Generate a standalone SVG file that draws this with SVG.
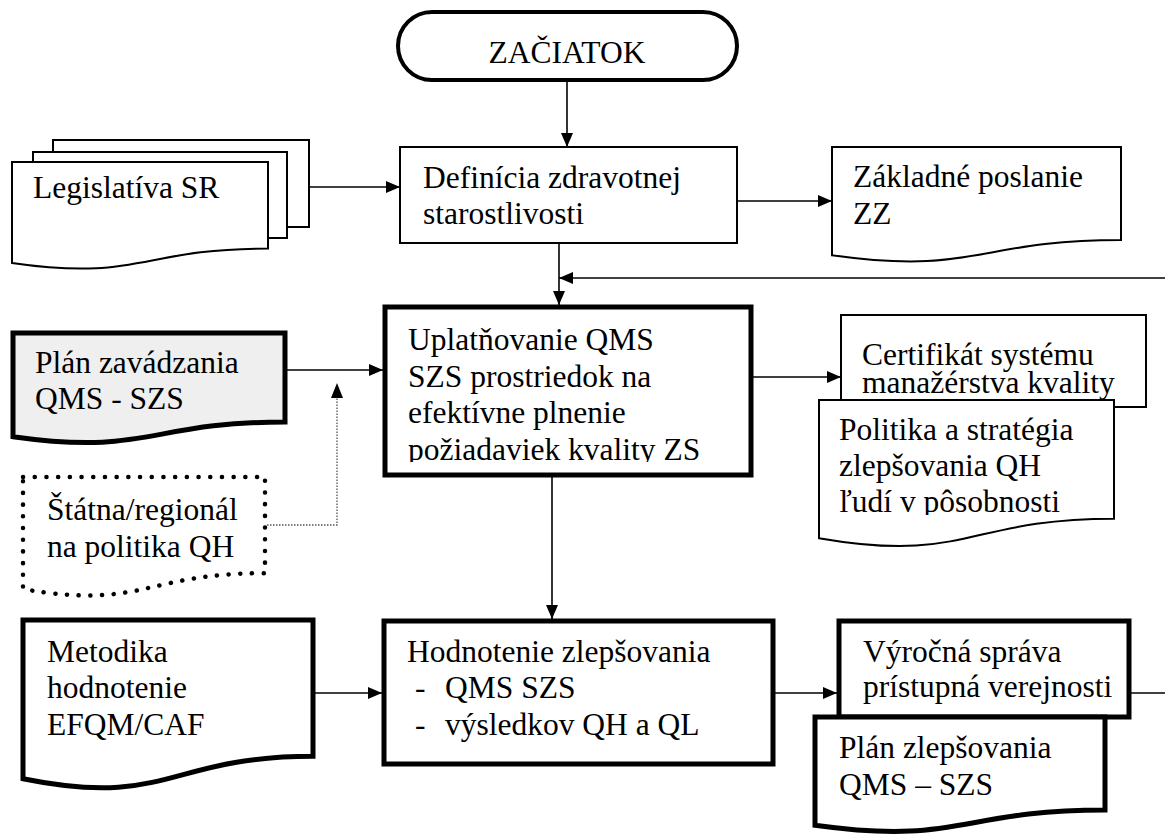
<svg xmlns="http://www.w3.org/2000/svg" width="1165" height="834" viewBox="0 0 1165 834">
<style>
text{font-family:"Liberation Serif","Times New Roman",serif;font-size:31.5px;fill:#000}
.thin{fill:#fff;stroke:#000;stroke-width:2}
.thick{fill:#fff;stroke:#000;stroke-width:5}
.conn{fill:none;stroke:#000;stroke-width:1.6}
.dot{fill:none;stroke:#555;stroke-width:1.3;stroke-dasharray:1.5 1.5}
</style>
<defs>
<marker id="ah" markerUnits="userSpaceOnUse" markerWidth="14" markerHeight="12" viewBox="0 0 14 12" refX="14" refY="6" orient="auto">
<path d="M0,0 L14,6 L0,12 Z" fill="#000"/>
</marker>
<clipPath id="clipU"><rect x="385" y="307" width="366" height="155"/></clipPath>
<clipPath id="clipP"><rect x="819" y="400" width="295" height="115"/></clipPath>
</defs>

<g id="connectors">
<line class="conn" x1="567" y1="80" x2="567" y2="147" marker-end="url(#ah)"/>
<line class="conn" x1="309" y1="187" x2="400" y2="187" marker-end="url(#ah)"/>
<line class="conn" x1="737" y1="201" x2="832" y2="201" marker-end="url(#ah)"/>
<line class="conn" x1="559" y1="243" x2="559" y2="305" marker-end="url(#ah)"/>
<line class="conn" x1="1165" y1="278" x2="559" y2="278" marker-end="url(#ah)"/>
<line class="conn" x1="285" y1="370" x2="383" y2="370" marker-end="url(#ah)"/>
<polyline class="dot" points="267,525 337,525 337,398"/>
<path d="M331,398 L337,383 L343,398 Z" fill="#000"/>
<line class="conn" x1="751" y1="377" x2="841" y2="377" marker-end="url(#ah)"/>
<line class="conn" x1="552" y1="475" x2="552" y2="619" marker-end="url(#ah)"/>
<line class="conn" x1="313" y1="693" x2="382" y2="693" marker-end="url(#ah)"/>
<line class="conn" x1="773" y1="693" x2="837" y2="693" marker-end="url(#ah)"/>
<line class="conn" x1="1129" y1="693" x2="1165" y2="693"/>
</g>

<g id="zaciatok">
<rect x="398" y="12" width="339" height="68" rx="34" ry="34" fill="#fff" stroke="#000" stroke-width="4"/>
<text x="567" y="63" text-anchor="middle">ZAČIATOK</text>
</g>

<g id="legislativa">
<rect class="thin" x="53" y="140" width="256" height="87"/>
<rect class="thin" x="33" y="152" width="254" height="86"/>
<path class="thin" d="M12,162 H268 V248.6 C140,248.6 140,281.6 12,262.9 Z"/>
<text x="33" y="198">Legislatíva SR</text>
</g>

<g id="definicia">
<rect class="thin" x="400" y="147" width="337" height="96"/>
<text x="423" y="188">Definícia zdravotnej</text>
<text x="423" y="224">starostlivosti</text>
</g>

<g id="zakladne">
<path class="thin" d="M832,147 H1121 V240 C976.5,240 976.5,275.5 832,255.3 Z"/>
<text x="853" y="187">Základné poslanie</text>
<text x="853" y="224">ZZ</text>
</g>

<g id="plan-zavadzania">
<path d="M13,333 H285 V422 C149,422 149,455.9 13,436.7 Z" fill="#efefef" stroke="#000" stroke-width="5"/>
<text x="35" y="373">Plán zavádzania</text>
<text x="35" y="409">QMS - SZS</text>
</g>

<g id="uplatnovanie">
<rect class="thick" x="385" y="307" width="366" height="168"/>
<g clip-path="url(#clipU)">
<text x="408" y="350">Uplatňovanie QMS</text>
<text x="408" y="386.5">SZS prostriedok na</text>
<text x="408" y="423">efektívne plnenie</text>
<text x="408" y="459.5">požiadaviek kvality ZS</text>
</g>
</g>

<g id="statna">
<path d="M23,477 H265 V573.2 C144,573.2 144,609.9 23,589.1 Z" fill="#fff" stroke="#000" stroke-width="4.5" stroke-linecap="round" stroke-dasharray="0.1 11.6"/>
<text x="47" y="520">Štátna/regionál</text>
<text x="47" y="557">na politika QH</text>
</g>

<g id="certifikat">
<rect class="thin" x="841" y="315" width="305" height="92"/>
<text x="862" y="365">Certifikát systému</text>
<text x="862" y="393">manažérstva kvality</text>
</g>

<g id="politika">
<path class="thin" d="M819,400 H1114 V518.7 C966.5,518.7 966.5,563.9 819,538.2 Z"/>
<g clip-path="url(#clipP)">
<text x="839" y="440">Politika a stratégia</text>
<text x="839" y="476">zlepšovania QH</text>
<text x="839" y="512">ľudí v pôsobnosti</text>
</g>
</g>

<g id="metodika">
<path class="thick" d="M23,620 H313 V756.3 C168,756.3 168,808.3 23,778.8 Z"/>
<text x="47" y="662">Metodika</text>
<text x="47" y="698">hodnotenie</text>
<text x="47" y="735">EFQM/CAF</text>
</g>

<g id="hodnotenie">
<rect class="thick" x="384" y="621" width="389" height="143"/>
<text x="407" y="662">Hodnotenie zlepšovania</text>
<text x="415" y="698">-</text>
<text x="445" y="698">QMS SZS</text>
<text x="415" y="735">-</text>
<text x="445" y="735">výsledkov QH a QL</text>
</g>

<g id="vyrocna">
<rect class="thick" x="839" y="621" width="290" height="96"/>
<text x="863" y="662">Výročná správa</text>
<text x="863" y="697">prístupná verejnosti</text>
</g>

<g id="plan-zlepsovania">
<path class="thick" d="M815,717 H1105 V810 C960,810 960,845.5 815,825.3 Z"/>
<text x="839" y="758">Plán zlepšovania</text>
<text x="839" y="795">QMS – SZS</text>
</g>
</svg>
